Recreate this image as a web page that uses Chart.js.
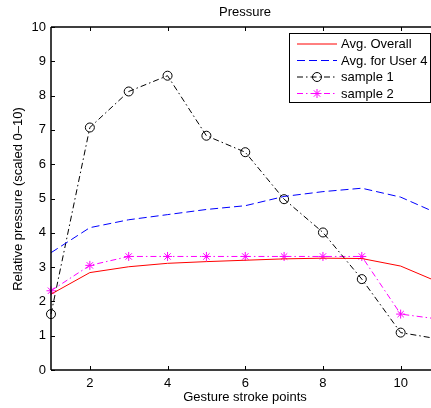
<!DOCTYPE html>
<html><head><meta charset="utf-8">
<script src="https://cdn.jsdelivr.net/npm/chart.js@4.4.0/dist/chart.umd.min.js"></script>
<style>html,body{margin:0;padding:0;background:#fff;overflow:hidden;width:431px;height:408px}
#wrap{width:431px;height:408px;overflow:hidden;position:relative;background:#fff}
canvas{display:block}</style></head><body>
<div id="wrap"><canvas id="c" width="445" height="408" style="width:445px;height:408px"></canvas></div>
<script>
const strokePoints = [1,2,3,4,5,6,7,8,9,10,11];
const avgOverall = [2.21,2.84,3.01,3.11,3.16,3.20,3.24,3.26,3.25,3.03,2.55];
const avgUser4 = [3.42,4.15,4.38,4.53,4.68,4.79,5.06,5.20,5.30,5.04,4.54];
const sample1 = [1.63,7.07,8.12,8.58,6.83,6.35,4.98,4.01,2.65,1.09,0.90];
const sample2 = [2.31,3.05,3.31,3.31,3.31,3.31,3.31,3.31,3.31,1.63,1.48];
const xTickValues = [2,4,6,8,10];
const yTickValues = [0,1,2,3,4,5,6,7,8,9,10];
const seriesLabels = ['Avg. Overall','Avg. for User 4','sample 1','sample 2'];
const titleText = 'Pressure';
const xTitle = 'Gesture stroke points';
const yTitle = 'Relative pressure (scaled 0\u201310)';

const FONT = "'Liberation Sans', Arial, Helvetica, sans-serif";
const FS = 13;
const pts = arr => strokePoints.map((x,i)=>({x:x,y:arr[i]}));

const styles = [
  {color:'#ff0000', dash:[], point:false},
  {color:'#0000ff', dash:[8,4], point:false},
  {color:'#000000', dash:[6,3,1.5,3], point:'circle'},
  {color:'#ff00ff', dash:[6,3,1.5,3], point:'star'}
];

const deco = {
  id:'deco',
  beforeDraw(chart){
    const c = chart.ctx; c.save(); c.fillStyle='#fff'; c.fillRect(0,0,chart.width,chart.height); c.restore();
  },
  afterDatasetsDraw(chart){
    const c = chart.ctx, a = chart.chartArea, xs = chart.scales.x, ys = chart.scales.y;
    c.save();
    c.strokeStyle='#000'; c.lineWidth=1.5; c.setLineDash([]);
    c.beginPath();
    c.moveTo(a.left, a.top); c.lineTo(a.right, a.top);
    c.moveTo(a.left, a.top); c.lineTo(a.left, a.bottom);
    c.moveTo(a.left, a.bottom); c.lineTo(a.right, a.bottom);
    c.moveTo(a.right, a.top); c.lineTo(a.right, a.bottom);
    c.stroke();
    c.lineWidth=1;
    c.beginPath();
    xTickValues.forEach(v=>{
      const px = Math.round(xs.getPixelForValue(v))+0.5;
      c.moveTo(px, a.bottom); c.lineTo(px, a.bottom-4);
      c.moveTo(px, a.top); c.lineTo(px, a.top+4);
    });
    yTickValues.forEach(v=>{
      const py = Math.round(ys.getPixelForValue(v))+0.5;
      c.moveTo(a.left, py); c.lineTo(a.left+4, py);
      c.moveTo(a.right, py); c.lineTo(a.right-4, py);
    });
    c.stroke();
    // titles
    c.fillStyle='#000';
    c.font = FS+'px '+FONT;
    c.textAlign='center'; c.textBaseline='middle';
    c.fillText(titleText, 245, 12);
    c.fillText(xTitle, 245, 397.5);
    c.save(); c.translate(18, 199); c.rotate(-Math.PI/2); c.fillText(yTitle, 0, 0); c.restore();
    // legend
    const L=289.5, T=33.5, R=430.5, B=102.5;
    c.fillStyle='#fff'; c.fillRect(L,T,R-L,B-T);
    c.strokeStyle='#000'; c.lineWidth=1; c.strokeRect(L,T,R-L,B-T);
    const rows=[44,60.5,77,93.5];
    seriesLabels.forEach((lab,i)=>{
      const s = styles[i], y=rows[i];
      c.strokeStyle=s.color; c.lineWidth=1; c.setLineDash(s.dash);
      c.beginPath(); c.moveTo(297,y); c.lineTo(337,y); c.stroke();
      c.setLineDash([]);
      if(s.point==='circle'){
        c.beginPath(); c.arc(317,y,4.5,0,Math.PI*2); c.stroke();
      } else if(s.point==='star'){
        const r=4.5; c.beginPath();
        c.moveTo(317-r,y); c.lineTo(317+r,y); c.moveTo(317,y-r); c.lineTo(317,y+r);
        const d=r*0.7071; c.moveTo(317-d,y-d); c.lineTo(317+d,y+d); c.moveTo(317-d,y+d); c.lineTo(317+d,y-d);
        c.stroke();
      }
      c.fillStyle='#000'; c.textAlign='left'; c.textBaseline='middle'; c.font=FS+'px '+FONT;
      c.fillText(lab, 341, y+0.5);
    });
    c.restore();
  }
};

const datasets = [avgOverall, avgUser4, sample1, sample2].map((arr,i)=>{
  const s = styles[i];
  return {
    label: seriesLabels[i], data: pts(arr),
    borderColor: s.color, backgroundColor: 'rgba(0,0,0,0)', borderWidth: 1,
    borderDash: s.dash, tension: 0, clip: false,
    pointRadius: s.point ? 4.5 : 0, pointStyle: s.point || 'circle',
    pointBorderColor: s.color, pointBackgroundColor: 'rgba(0,0,0,0)', pointBorderWidth: 1
  };
});

new Chart(document.getElementById('c'), {
  type:'line',
  data:{datasets},
  options:{
    responsive:false, devicePixelRatio:1, animation:false,
    layout:{padding:{top:27,left:0,right:0,bottom:0}},
    plugins:{legend:{display:false}, tooltip:{enabled:false}, title:{display:false}},
    scales:{
      x:{type:'linear', min:1, max:11,
        afterFit(s){s.height=38; s.paddingLeft=0; s.paddingRight=0;},
        afterBuildTicks(s){s.ticks = xTickValues.map(v=>({value:v}));},
        grid:{display:false, drawTicks:false}, border:{display:false},
        ticks:{padding:6, color:'#000', font:{family:FONT, size:FS}, maxRotation:0, autoSkip:false}},
      y:{type:'linear', min:0, max:10,
        afterFit(s){s.width=51; s.paddingTop=0; s.paddingBottom=0;},
        afterBuildTicks(s){s.ticks = yTickValues.map(v=>({value:v}));},
        grid:{display:false, drawTicks:false}, border:{display:false},
        ticks:{padding:5, color:'#000', font:{family:FONT, size:FS}, autoSkip:false}}
    }
  },
  plugins:[deco]
});
</script></body></html>
